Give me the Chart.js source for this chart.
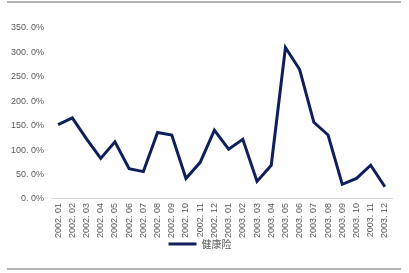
<!DOCTYPE html>
<html>
<head>
<meta charset="utf-8">
<script src="https://cdn.jsdelivr.net/npm/chart.js@4"></script>
<style>
html,body{margin:0;padding:0;background:#fff;}
#wrap{position:relative;width:409px;height:273px;}
.rule{position:absolute;left:7px;width:394px;height:0;border-top:2px solid #b4b4b4;}
</style>
</head>
<body>
<div id="wrap">
<canvas id="c" width="409" height="273"></canvas>
<div class="rule" style="top:1px"></div>
<div class="rule" style="top:268px"></div>
</div>
<script>
const categories = ["2002. 01","2002. 02","2002. 03","2002. 04","2002. 05","2002. 06","2002. 07","2002. 08","2002. 09","2002. 10","2002. 11","2002. 12",
                    "2003. 01","2003. 02","2003. 03","2003. 04","2003. 05","2003. 06","2003. 07","2003. 08","2003. 09","2003. 10","2003. 11","2003. 12"];
const seriesName = "健康险";
const healthValues = [152,166,123,83,117,62,56,136,131,42,75,141,102,122,36,69,310,265,157,131,30,42,69,25];
const yTicks = [0,50,100,150,200,250,300,350];

// move the legend up so it sits just under the rotated labels, as in the reference
const legendShift = {
  id: 'legendShift',
  afterLayout(chart) {
    const lg = chart.legend;
    if (!lg) return;
    const h = lg.bottom - lg.top;
    lg.top = chart.chartArea.bottom + 34;
    lg.bottom = lg.top + h;
    lg.left += 4;
    lg.right += 4;
  }
};

new Chart(document.getElementById('c'), {
  type: 'line',
  data: {
    labels: categories,
    datasets: [{
      label: seriesName,
      data: healthValues,
      borderColor: '#0e1f5b',
      backgroundColor: '#0e1f5b',
      borderWidth: 3,
      pointRadius: 0,
      tension: 0
    }]
  },
  plugins: [legendShift],
  options: {
    responsive: false,
    animation: false,
    layout: { padding: { top: 28, right: 17, bottom: 5, left: 0 } },
    plugins: {
      tooltip: { enabled: false },
      legend: {
        position: 'bottom',
        labels: {
          boxWidth: 28, boxHeight: 3, padding: 6,
          color: '#595959',
          font: { family: "'Noto Sans CJK SC'", size: 10 },
          generateLabels: chart => chart.data.datasets.map((ds, i) => ({
            text: ds.label, fillStyle: ds.borderColor, strokeStyle: ds.borderColor,
            lineWidth: 0, fontColor: '#595959', hidden: false, datasetIndex: i
          }))
        }
      }
    },
    scales: {
      x: {
        offset: true,
        grid: { display: false, drawTicks: false },
        border: { display: true, color: '#d9d9d9', width: 1 },
        ticks: {
          autoSkip: false, maxRotation: 90, minRotation: 90, padding: 4,
          color: '#595959', font: { family: "'Liberation Sans'", size: 9 }
        }
      },
      y: {
        min: 0, max: 350,
        afterBuildTicks: s => { s.ticks = yTicks.map(v => ({ value: v })); },
        grid: { display: false, drawTicks: false },
        border: { display: false },
        ticks: {
          padding: 7,
          color: '#595959', font: { family: "'Liberation Sans'", size: 9 },
          callback: v => v.toFixed(1).replace('.', '. ') + '%'
        },
        afterFit: s => { s.width = 51; }
      }
    }
  }
});
</script>
</body>
</html>
